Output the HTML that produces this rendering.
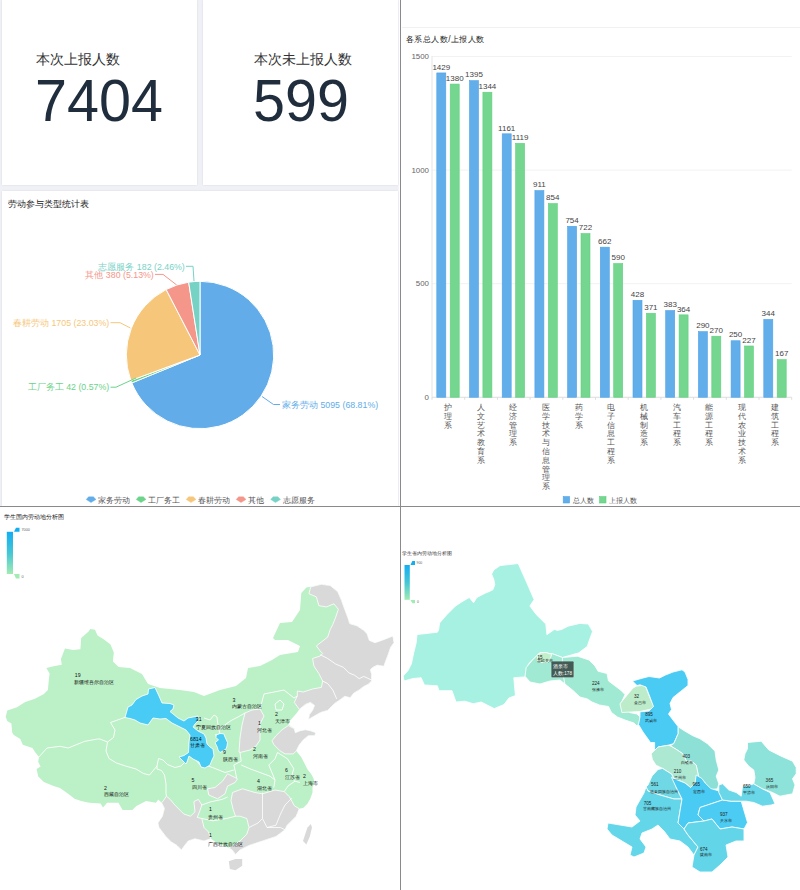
<!DOCTYPE html><html><head><meta charset="utf-8"><style>
html,body{margin:0;padding:0;width:800px;height:890px;overflow:hidden;background:#fff;font-family:"Liberation Sans", sans-serif;}
.abs{position:absolute;}
.card{position:absolute;background:#fff;box-shadow:0 0 2px rgba(0,0,40,0.10);}
svg{position:absolute;left:0;top:0;}
</style></head><body>
<div class="abs" style="left:0;top:0;width:399px;height:506px;background:#f0f1f6"></div>
<div class="abs" style="left:398px;top:0;width:1px;height:506px;background:#f4f4fa"></div>
<div class="card" style="left:2px;top:0;width:195px;height:185px"></div>
<div class="card" style="left:203px;top:0;width:195px;height:185px"></div>
<div class="card" style="left:2px;top:191px;width:396px;height:315px"></div>
<div class="abs" style="left:35.5px;top:50.5px;font-size:13.5px;color:#333;white-space:nowrap">本次上报人数</div>
<div class="abs" style="left:34.5px;top:67px;font-size:59px;color:#1f2d3d;white-space:nowrap;transform:scaleX(0.975);transform-origin:0 0">7404</div>
<div class="abs" style="left:253.5px;top:50.5px;font-size:13.5px;color:#333;white-space:nowrap">本次未上报人数</div>
<div class="abs" style="left:252.5px;top:67px;font-size:59px;color:#1f2d3d;white-space:nowrap;transform:scaleX(0.975);transform-origin:0 0">599</div>

<svg width="800" height="890" viewBox="0 0 800 890" style="font-family:'Liberation Sans',sans-serif"><path d="M200,355 L200.00,281.30 A73.7,73.7 0 1 1 131.80,382.93 Z" fill="#62ADE9" stroke="#fff" stroke-width="1" stroke-linejoin="round"/><path d="M200,355 L131.80,382.93 A73.7,73.7 0 0 1 130.85,380.48 Z" fill="#6CD38A" stroke="#fff" stroke-width="1" stroke-linejoin="round"/><path d="M200,355 L130.85,380.48 A73.7,73.7 0 0 1 166.17,289.52 Z" fill="#F6C77B" stroke="#fff" stroke-width="1" stroke-linejoin="round"/><path d="M200,355 L166.17,289.52 A73.7,73.7 0 0 1 188.66,282.18 Z" fill="#F5968A" stroke="#fff" stroke-width="1" stroke-linejoin="round"/><path d="M200,355 L188.66,282.18 A73.7,73.7 0 0 1 200.00,281.30 Z" fill="#77D2C6" stroke="#fff" stroke-width="1" stroke-linejoin="round"/><path d="M262,396.5 L273.5,404.5 L280,404.5" fill="none" stroke="#62ADE9" stroke-width="1"/><text x="282" y="408.3" text-anchor="start" font-size="8.8" fill="#62ADE9">家务劳动 5095 (68.81%)</text><path d="M136,378 L116,387.2 L110.5,387.2" fill="none" stroke="#6CD38A" stroke-width="1"/><text x="109.2" y="390.4" text-anchor="end" font-size="8.8" fill="#6CD38A">工厂务工 42 (0.57%)</text><path d="M130.4,328 L120,322.7 L110.5,322.7" fill="none" stroke="#F6C77B" stroke-width="1"/><text x="109.2" y="325.6" text-anchor="end" font-size="8.8" fill="#F6C77B">春耕劳动 1705 (23.03%)</text><path d="M176.7,285 L163,274.4 L155,274.4" fill="none" stroke="#F5968A" stroke-width="1"/><text x="153.8" y="278.0" text-anchor="end" font-size="8.8" fill="#F5968A">其他 380 (5.13%)</text><path d="M194,281 L193,266.3 L186,266.3" fill="none" stroke="#77D2C6" stroke-width="1"/><text x="184.8" y="270.1" text-anchor="end" font-size="8.8" fill="#77D2C6">志愿服务 182 (2.46%)</text><text x="8" y="207.4" font-size="9" fill="#222">劳动参与类型统计表</text><path d="M86.2,499.4 L88.6,496.8 L93.4,496.8 L96,499.4 L91,502.6 Z" fill="#62ADE9" stroke="#62ADE9" stroke-width="0.4" stroke-linejoin="round"/><text x="98.1" y="503.3" font-size="8.1" fill="#555">家务劳动</text><path d="M136.2,499.4 L138.6,496.8 L143.4,496.8 L146,499.4 L141,502.6 Z" fill="#6CD38A" stroke="#6CD38A" stroke-width="0.4" stroke-linejoin="round"/><text x="148.1" y="503.3" font-size="8.1" fill="#555">工厂务工</text><path d="M186.2,499.4 L188.6,496.8 L193.4,496.8 L196,499.4 L191,502.6 Z" fill="#F6C77B" stroke="#F6C77B" stroke-width="0.4" stroke-linejoin="round"/><text x="198.1" y="503.3" font-size="8.1" fill="#555">春耕劳动</text><path d="M236.2,499.4 L238.6,496.8 L243.4,496.8 L246,499.4 L241,502.6 Z" fill="#F5968A" stroke="#F5968A" stroke-width="0.4" stroke-linejoin="round"/><text x="248.1" y="503.3" font-size="8.1" fill="#555">其他</text><path d="M270.7,499.4 L273.1,496.8 L277.9,496.8 L280.5,499.4 L275.5,502.6 Z" fill="#77D2C6" stroke="#77D2C6" stroke-width="0.4" stroke-linejoin="round"/><text x="282.6" y="503.3" font-size="8.1" fill="#555">志愿服务</text><rect x="400" y="0" width="1" height="890" fill="#8a8a8a"/><rect x="0" y="506" width="800" height="1" fill="#8a8a8a"/><rect x="402" y="27" width="398" height="1" fill="#f1f1f1"/><text x="406" y="42.2" font-size="8.2" letter-spacing="0.45" fill="#222">各系总人数/上报人数</text><text x="429" y="399.85" text-anchor="end" font-size="7.9" fill="#666">0</text><rect x="432.0" y="283.17" width="359.70" height="1" fill="#f2f2f2"/><text x="429" y="286.27" text-anchor="end" font-size="7.9" fill="#666">500</text><rect x="432.0" y="169.58" width="359.70" height="1" fill="#f2f2f2"/><text x="429" y="172.68" text-anchor="end" font-size="7.9" fill="#666">1000</text><rect x="432.0" y="56.00" width="359.70" height="1" fill="#f2f2f2"/><text x="429" y="59.10" text-anchor="end" font-size="7.9" fill="#666">1500</text><rect x="431.5" y="56" width="1" height="341.25" fill="#e6e6e6"/><rect x="432.0" y="396.75" width="359.70" height="1" fill="#dddddd"/><rect x="431.50" y="397.25" width="1" height="2.5" fill="#dddddd"/><rect x="464.20" y="397.25" width="1" height="2.5" fill="#dddddd"/><rect x="496.90" y="397.25" width="1" height="2.5" fill="#dddddd"/><rect x="529.60" y="397.25" width="1" height="2.5" fill="#dddddd"/><rect x="562.30" y="397.25" width="1" height="2.5" fill="#dddddd"/><rect x="595.00" y="397.25" width="1" height="2.5" fill="#dddddd"/><rect x="627.70" y="397.25" width="1" height="2.5" fill="#dddddd"/><rect x="660.40" y="397.25" width="1" height="2.5" fill="#dddddd"/><rect x="693.10" y="397.25" width="1" height="2.5" fill="#dddddd"/><rect x="725.80" y="397.25" width="1" height="2.5" fill="#dddddd"/><rect x="758.50" y="397.25" width="1" height="2.5" fill="#dddddd"/><rect x="791.20" y="397.25" width="1" height="2.5" fill="#dddddd"/><rect x="436.80" y="72.93" width="9.00" height="324.32" fill="#62AEEA" stroke="#4ea2e8" stroke-width="0.6"/><text x="441.30" y="69.63" text-anchor="middle" font-size="8" fill="#444">1429</text><rect x="450.20" y="84.06" width="9.00" height="313.19" fill="#74D68F" stroke="#5fd07f" stroke-width="0.6"/><text x="454.70" y="80.76" text-anchor="middle" font-size="8" fill="#444">1380</text><text x="447.85" y="410.00" text-anchor="middle" font-size="7.6" fill="#555">护</text><text x="447.85" y="418.80" text-anchor="middle" font-size="7.6" fill="#555">理</text><text x="447.85" y="427.60" text-anchor="middle" font-size="7.6" fill="#555">系</text><rect x="469.50" y="80.65" width="9.00" height="316.60" fill="#62AEEA" stroke="#4ea2e8" stroke-width="0.6"/><text x="474.00" y="77.35" text-anchor="middle" font-size="8" fill="#444">1395</text><rect x="482.90" y="92.24" width="9.00" height="305.01" fill="#74D68F" stroke="#5fd07f" stroke-width="0.6"/><text x="487.40" y="88.94" text-anchor="middle" font-size="8" fill="#444">1344</text><text x="480.55" y="410.00" text-anchor="middle" font-size="7.6" fill="#555">人</text><text x="480.55" y="418.80" text-anchor="middle" font-size="7.6" fill="#555">文</text><text x="480.55" y="427.60" text-anchor="middle" font-size="7.6" fill="#555">艺</text><text x="480.55" y="436.40" text-anchor="middle" font-size="7.6" fill="#555">术</text><text x="480.55" y="445.20" text-anchor="middle" font-size="7.6" fill="#555">教</text><text x="480.55" y="454.00" text-anchor="middle" font-size="7.6" fill="#555">育</text><text x="480.55" y="462.80" text-anchor="middle" font-size="7.6" fill="#555">系</text><rect x="502.20" y="133.81" width="9.00" height="263.44" fill="#62AEEA" stroke="#4ea2e8" stroke-width="0.6"/><text x="506.70" y="130.51" text-anchor="middle" font-size="8" fill="#444">1161</text><rect x="515.60" y="143.35" width="9.00" height="253.90" fill="#74D68F" stroke="#5fd07f" stroke-width="0.6"/><text x="520.10" y="140.05" text-anchor="middle" font-size="8" fill="#444">1119</text><text x="513.25" y="410.00" text-anchor="middle" font-size="7.6" fill="#555">经</text><text x="513.25" y="418.80" text-anchor="middle" font-size="7.6" fill="#555">济</text><text x="513.25" y="427.60" text-anchor="middle" font-size="7.6" fill="#555">管</text><text x="513.25" y="436.40" text-anchor="middle" font-size="7.6" fill="#555">理</text><text x="513.25" y="445.20" text-anchor="middle" font-size="7.6" fill="#555">系</text><rect x="534.90" y="190.60" width="9.00" height="206.65" fill="#62AEEA" stroke="#4ea2e8" stroke-width="0.6"/><text x="539.40" y="187.30" text-anchor="middle" font-size="8" fill="#444">911</text><rect x="548.30" y="203.55" width="9.00" height="193.70" fill="#74D68F" stroke="#5fd07f" stroke-width="0.6"/><text x="552.80" y="200.25" text-anchor="middle" font-size="8" fill="#444">854</text><text x="545.95" y="410.00" text-anchor="middle" font-size="7.6" fill="#555">医</text><text x="545.95" y="418.80" text-anchor="middle" font-size="7.6" fill="#555">学</text><text x="545.95" y="427.60" text-anchor="middle" font-size="7.6" fill="#555">技</text><text x="545.95" y="436.40" text-anchor="middle" font-size="7.6" fill="#555">术</text><text x="545.95" y="445.20" text-anchor="middle" font-size="7.6" fill="#555">与</text><text x="545.95" y="454.00" text-anchor="middle" font-size="7.6" fill="#555">信</text><text x="545.95" y="462.80" text-anchor="middle" font-size="7.6" fill="#555">息</text><text x="545.95" y="471.60" text-anchor="middle" font-size="7.6" fill="#555">管</text><text x="545.95" y="480.40" text-anchor="middle" font-size="7.6" fill="#555">理</text><text x="545.95" y="489.20" text-anchor="middle" font-size="7.6" fill="#555">系</text><rect x="567.60" y="226.27" width="9.00" height="170.98" fill="#62AEEA" stroke="#4ea2e8" stroke-width="0.6"/><text x="572.10" y="222.97" text-anchor="middle" font-size="8" fill="#444">754</text><rect x="581.00" y="233.54" width="9.00" height="163.71" fill="#74D68F" stroke="#5fd07f" stroke-width="0.6"/><text x="585.50" y="230.24" text-anchor="middle" font-size="8" fill="#444">722</text><text x="578.65" y="410.00" text-anchor="middle" font-size="7.6" fill="#555">药</text><text x="578.65" y="418.80" text-anchor="middle" font-size="7.6" fill="#555">学</text><text x="578.65" y="427.60" text-anchor="middle" font-size="7.6" fill="#555">系</text><rect x="600.30" y="247.17" width="9.00" height="150.08" fill="#62AEEA" stroke="#4ea2e8" stroke-width="0.6"/><text x="604.80" y="243.87" text-anchor="middle" font-size="8" fill="#444">662</text><rect x="613.70" y="263.52" width="9.00" height="133.73" fill="#74D68F" stroke="#5fd07f" stroke-width="0.6"/><text x="618.20" y="260.22" text-anchor="middle" font-size="8" fill="#444">590</text><text x="611.35" y="410.00" text-anchor="middle" font-size="7.6" fill="#555">电</text><text x="611.35" y="418.80" text-anchor="middle" font-size="7.6" fill="#555">子</text><text x="611.35" y="427.60" text-anchor="middle" font-size="7.6" fill="#555">信</text><text x="611.35" y="436.40" text-anchor="middle" font-size="7.6" fill="#555">息</text><text x="611.35" y="445.20" text-anchor="middle" font-size="7.6" fill="#555">工</text><text x="611.35" y="454.00" text-anchor="middle" font-size="7.6" fill="#555">程</text><text x="611.35" y="462.80" text-anchor="middle" font-size="7.6" fill="#555">系</text><rect x="633.00" y="300.32" width="9.00" height="96.93" fill="#62AEEA" stroke="#4ea2e8" stroke-width="0.6"/><text x="637.50" y="297.02" text-anchor="middle" font-size="8" fill="#444">428</text><rect x="646.40" y="313.27" width="9.00" height="83.98" fill="#74D68F" stroke="#5fd07f" stroke-width="0.6"/><text x="650.90" y="309.97" text-anchor="middle" font-size="8" fill="#444">371</text><text x="644.05" y="410.00" text-anchor="middle" font-size="7.6" fill="#555">机</text><text x="644.05" y="418.80" text-anchor="middle" font-size="7.6" fill="#555">械</text><text x="644.05" y="427.60" text-anchor="middle" font-size="7.6" fill="#555">制</text><text x="644.05" y="436.40" text-anchor="middle" font-size="7.6" fill="#555">造</text><text x="644.05" y="445.20" text-anchor="middle" font-size="7.6" fill="#555">系</text><rect x="665.70" y="310.55" width="9.00" height="86.70" fill="#62AEEA" stroke="#4ea2e8" stroke-width="0.6"/><text x="670.20" y="307.25" text-anchor="middle" font-size="8" fill="#444">383</text><rect x="679.10" y="314.86" width="9.00" height="82.39" fill="#74D68F" stroke="#5fd07f" stroke-width="0.6"/><text x="683.60" y="311.56" text-anchor="middle" font-size="8" fill="#444">364</text><text x="676.75" y="410.00" text-anchor="middle" font-size="7.6" fill="#555">汽</text><text x="676.75" y="418.80" text-anchor="middle" font-size="7.6" fill="#555">车</text><text x="676.75" y="427.60" text-anchor="middle" font-size="7.6" fill="#555">工</text><text x="676.75" y="436.40" text-anchor="middle" font-size="7.6" fill="#555">程</text><text x="676.75" y="445.20" text-anchor="middle" font-size="7.6" fill="#555">系</text><rect x="698.40" y="331.67" width="9.00" height="65.58" fill="#62AEEA" stroke="#4ea2e8" stroke-width="0.6"/><text x="702.90" y="328.37" text-anchor="middle" font-size="8" fill="#444">290</text><rect x="711.80" y="336.22" width="9.00" height="61.03" fill="#74D68F" stroke="#5fd07f" stroke-width="0.6"/><text x="716.30" y="332.92" text-anchor="middle" font-size="8" fill="#444">270</text><text x="709.45" y="410.00" text-anchor="middle" font-size="7.6" fill="#555">能</text><text x="709.45" y="418.80" text-anchor="middle" font-size="7.6" fill="#555">源</text><text x="709.45" y="427.60" text-anchor="middle" font-size="7.6" fill="#555">工</text><text x="709.45" y="436.40" text-anchor="middle" font-size="7.6" fill="#555">程</text><text x="709.45" y="445.20" text-anchor="middle" font-size="7.6" fill="#555">系</text><rect x="731.10" y="340.76" width="9.00" height="56.49" fill="#62AEEA" stroke="#4ea2e8" stroke-width="0.6"/><text x="735.60" y="337.46" text-anchor="middle" font-size="8" fill="#444">250</text><rect x="744.50" y="345.98" width="9.00" height="51.27" fill="#74D68F" stroke="#5fd07f" stroke-width="0.6"/><text x="749.00" y="342.68" text-anchor="middle" font-size="8" fill="#444">227</text><text x="742.15" y="410.00" text-anchor="middle" font-size="7.6" fill="#555">现</text><text x="742.15" y="418.80" text-anchor="middle" font-size="7.6" fill="#555">代</text><text x="742.15" y="427.60" text-anchor="middle" font-size="7.6" fill="#555">农</text><text x="742.15" y="436.40" text-anchor="middle" font-size="7.6" fill="#555">业</text><text x="742.15" y="445.20" text-anchor="middle" font-size="7.6" fill="#555">技</text><text x="742.15" y="454.00" text-anchor="middle" font-size="7.6" fill="#555">术</text><text x="742.15" y="462.80" text-anchor="middle" font-size="7.6" fill="#555">系</text><rect x="763.80" y="319.40" width="9.00" height="77.85" fill="#62AEEA" stroke="#4ea2e8" stroke-width="0.6"/><text x="768.30" y="316.10" text-anchor="middle" font-size="8" fill="#444">344</text><rect x="777.20" y="359.61" width="9.00" height="37.64" fill="#74D68F" stroke="#5fd07f" stroke-width="0.6"/><text x="781.70" y="356.31" text-anchor="middle" font-size="8" fill="#444">167</text><text x="774.85" y="410.00" text-anchor="middle" font-size="7.6" fill="#555">建</text><text x="774.85" y="418.80" text-anchor="middle" font-size="7.6" fill="#555">筑</text><text x="774.85" y="427.60" text-anchor="middle" font-size="7.6" fill="#555">工</text><text x="774.85" y="436.40" text-anchor="middle" font-size="7.6" fill="#555">程</text><text x="774.85" y="445.20" text-anchor="middle" font-size="7.6" fill="#555">系</text><rect x="563.2" y="496.6" width="6.4" height="6.4" fill="#62AEEA" stroke="#4da3e8" stroke-width="0.6"/><text x="572.5" y="503" font-size="7" fill="#555">总人数</text><rect x="599.6" y="496.6" width="6.4" height="6.4" fill="#74D68F" stroke="#5ccf7c" stroke-width="0.6"/><text x="609" y="503" font-size="7" fill="#555">上报人数</text><polygon points="5.7,717.0 7.3,710.6 17.0,707.3 25.2,702.0 35.0,698.8 43.9,694.0 47.9,689.9 48.8,680.0 49.6,673.6 46.3,668.0 53.6,666.3 61.8,664.7 60.9,659.0 65.0,648.4 73.1,650.0 80.4,649.2 81.2,637.9 88.6,631.4 90.2,629.0 95.0,629.8 97.5,635.4 104.0,639.5 110.5,644.4 113.8,652.5 112.9,661.4 118.6,667.1 130.0,668.0 142.0,674.0 148.0,684.0 160.0,688.0 180.0,690.0 194.0,692.0 204.0,696.0 220.0,690.0 236.0,686.0 246.0,678.0 248.0,668.0 260.0,666.0 272.0,660.0 280.0,655.0 298.0,652.0 300.0,646.0 288.0,640.0 275.0,640.0 273.0,638.0 280.0,623.0 292.0,622.0 300.0,610.0 301.3,593.1 306.4,587.4 310.8,586.8 321.4,584.3 330.2,585.5 337.8,591.8 341.6,600.6 344.6,609.0 348.0,618.0 349.7,623.6 357.0,625.8 363.7,630.3 367.1,633.7 369.3,640.4 375.0,642.7 381.7,640.4 392.9,636.0 394.0,642.7 390.7,647.2 388.4,653.9 385.0,662.9 383.9,666.3 377.2,665.2 372.7,667.4 370.4,669.7 371.6,674.2 371.6,680.9 368.2,684.3 363.7,686.5 359.2,689.9 353.6,693.3 350.2,697.8 344.8,696.3 340.8,699.3 334.7,703.4 327.6,710.4 320.6,712.5 313.5,716.5 308.4,719.5 309.4,714.5 312.5,710.4 314.5,705.4 310.4,702.4 305.4,704.4 299.3,709.4 296.3,713.5 290.2,720.6 288.2,724.6 294.3,728.6 295.3,732.7 300.3,730.7 305.4,729.7 310.4,730.7 316.0,732.7 314.5,735.7 308.4,735.7 303.4,739.8 299.3,744.8 296.3,750.9 301.3,757.2 304.4,763.3 307.4,769.3 311.5,774.4 313.5,778.4 314.5,782.5 312.5,787.5 312.5,792.6 310.4,798.6 307.4,803.7 303.4,807.7 299.3,808.8 296.2,816.2 287.2,825.2 285.0,829.8 276.0,836.5 262.5,841.0 249.0,845.5 240.0,850.0 235.5,854.5 232.2,850.0 228.8,847.8 217.5,843.2 210.8,838.8 204.0,841.0 195.0,838.8 188.2,841.0 183.8,846.6 181.5,850.0 177.0,845.5 171.4,842.0 165.8,836.5 159.0,827.5 157.9,823.0 162.4,816.2 164.4,808.4 161.6,802.8 158.3,799.5 155.9,802.8 146.1,801.1 136.4,806.0 132.3,810.0 122.6,810.0 118.5,802.8 107.1,802.8 103.0,807.6 100.6,803.6 89.2,802.8 81.1,801.1 74.6,798.7 68.1,793.8 60.0,788.1 53.6,786.0 43.9,782.0 38.2,776.4 36.6,769.0 40.6,766.6 38.2,761.8 39.0,756.9 35.0,752.0 32.5,748.0 22.8,744.7 20.3,739.0 13.8,735.0 12.2,732.5 11.4,723.6 7.3,721.0" fill="#bcf0c7" stroke="none" stroke-width="0.85" stroke-linejoin="round"/>
<polygon points="310.8,586.8 321.4,584.3 330.2,585.5 337.8,591.8 341.6,600.6 344.6,609.0 348.0,618.0 349.7,623.6 357.0,625.8 363.7,630.3 367.1,633.7 369.3,640.4 375.0,642.7 381.7,640.4 392.9,636.0 394.0,642.7 390.7,647.2 388.4,653.9 385.0,662.9 383.9,666.3 377.2,665.2 372.7,667.4 370.4,669.7 371.6,674.2 371.6,680.9 368.2,684.3 363.7,686.5 359.2,689.9 353.6,693.3 350.2,697.8 344.8,696.3 340.8,699.3 334.7,703.4 327.6,710.4 320.6,712.5 313.5,716.5 308.4,719.5 309.4,714.5 312.5,710.4 314.5,705.4 310.4,702.4 305.4,704.4 299.3,709.4 294.3,702.4 297.3,696.0 297.3,691.0 303.4,692.0 312.5,689.0 321.4,687.4 322.7,681.1 318.9,673.6 313.9,666.0 312.6,658.5 320.2,656.0 322.7,653.5 320.2,651.0 316.4,645.9 327.7,637.1 330.2,629.6 332.8,624.5 335.3,618.3 338.4,609.4 334.0,603.8 326.5,606.9 318.9,605.7 316.4,596.9 308.9,593.7" fill="#d9d9d9" stroke="#fff" stroke-width="0.8" stroke-linejoin="round"/>
<polyline points="320.2,654.7 327.7,658.5 335.6,664.0 343.5,667.4 349.1,673.0 354.7,675.3 359.2,678.7 363.7,676.4 371.6,680.0" fill="none" stroke="#fff" stroke-width="0.85" stroke-linejoin="round"/>
<polyline points="322.7,681.1 327.7,683.6 332.8,690.0 336.7,698.9" fill="none" stroke="#fff" stroke-width="0.85" stroke-linejoin="round"/>
<polygon points="288.2,725.6 294.3,728.6 295.3,732.7 300.3,730.7 305.4,729.7 310.4,730.7 316.0,732.7 314.5,735.7 308.4,735.7 303.4,739.8 299.3,744.8 296.3,750.9 293.3,753.9 285.2,753.9 280.1,750.9 274.0,744.8 272.0,740.8 276.0,735.7 282.1,729.7" fill="#d9d9d9" stroke="#fff" stroke-width="0.8" stroke-linejoin="round"/>
<polygon points="245.0,713.0 252.0,710.0 260.0,709.0 264.0,716.0 260.0,724.0 260.0,740.0 256.0,746.0 250.0,750.0 240.0,752.5 239.0,752.0 240.0,738.0 242.0,725.0" fill="#d9d9d9" stroke="#fff" stroke-width="0.8" stroke-linejoin="round"/>
<polygon points="207.5,788.8 215.0,787.5 222.5,781.2 227.5,773.8 237.5,778.8 235.0,782.5 227.5,786.2 225.0,793.8 217.5,798.8 208.8,795.0" fill="#d9d9d9" stroke="#fff" stroke-width="0.8" stroke-linejoin="round"/>
<polygon points="232.5,792.5 242.5,788.8 255.0,792.5 262.5,793.8 275.0,790.0 284.2,791.6 289.2,796.6 292.2,801.7 294.3,805.7 299.3,808.8 296.2,816.2 287.2,825.2 285.0,829.8 276.0,836.5 262.5,841.0 249.0,845.5 240.0,850.0 235.5,854.5 232.2,850.0 228.8,847.8 233.2,845.5 240.0,841.0 246.8,834.2 249.0,827.5 246.8,818.5 240.0,816.2 235.5,816.2 233.2,809.5 231.0,800.5" fill="#d9d9d9" stroke="#fff" stroke-width="0.8" stroke-linejoin="round"/>
<polyline points="262.5,792.6 262.5,818.5 258.0,823.0 249.0,827.5" fill="none" stroke="#fff" stroke-width="0.8" stroke-linejoin="round"/>
<polyline points="262.5,818.5 267.0,827.5 280.5,827.5 285.0,829.8" fill="none" stroke="#fff" stroke-width="0.8" stroke-linejoin="round"/>
<polyline points="291.8,798.2 285.0,805.0 280.5,814.0 276.0,825.2 267.0,827.5" fill="none" stroke="#fff" stroke-width="0.8" stroke-linejoin="round"/>
<polygon points="161.6,802.8 163.5,800.5 166.4,796.2 170.2,799.4 174.8,805.0 183.8,814.0 190.5,816.2 195.0,811.8 193.9,801.6 198.4,799.4 201.8,805.0 199.5,811.8 197.2,817.4 201.8,818.5 204.0,827.5 208.5,832.0 210.8,838.8 204.0,841.0 195.0,838.8 188.2,841.0 183.8,846.6 181.5,850.0 177.0,845.5 171.4,842.0 165.8,836.5 159.0,827.5 157.9,823.0 162.4,816.2 164.4,808.4" fill="#d9d9d9" stroke="#fff" stroke-width="0.8" stroke-linejoin="round"/>
<polygon points="228.8,861.2 235.5,859.0 242.2,859.0 242.2,865.8 235.5,870.2 229.9,869.0" fill="#d9d9d9" stroke="none" stroke-width="0.85" stroke-linejoin="round"/>
<polygon points="305.2,834.2 307.5,827.5 310.8,824.0 312.0,827.5 309.8,836.5 306.4,844.4 303.0,841.0" fill="#d9d9d9" stroke="none" stroke-width="0.85" stroke-linejoin="round"/>
<polyline points="39.0,756.9 47.0,748.0 60.0,746.3 68.2,748.0 84.5,741.4 97.5,739.0 100.0,739.0 107.5,742.0" fill="none" stroke="#fff" stroke-width="0.9" stroke-linejoin="round"/>
<polyline points="107.5,742.0 113.5,737.5 115.0,730.0 110.5,722.5 125.5,717.2" fill="none" stroke="#fff" stroke-width="0.9" stroke-linejoin="round"/>
<polyline points="107.5,742.0 106.0,751.0 109.0,758.5 116.5,763.0 125.5,766.0 136.0,769.0 143.5,773.5 149.5,775.0 157.0,766.0 158.5,758.5 163.0,760.0 167.5,764.5 175.0,767.5 181.0,766.0 185.5,761.5 188.5,755.5 196.0,760.0 202.0,767.5 208.0,766.0 212.5,767.5" fill="none" stroke="#fff" stroke-width="0.9" stroke-linejoin="round"/>
<polyline points="157.0,766.0 157.0,769.0 161.5,770.5 164.5,775.0 166.0,784.0 166.0,793.0 166.4,796.2" fill="none" stroke="#fff" stroke-width="0.9" stroke-linejoin="round"/>
<polyline points="204.0,718.0 210.0,720.0 214.0,715.0 217.0,717.0 217.5,722.0 219.0,730.0 220.0,734.0 215.0,735.0" fill="none" stroke="#fff" stroke-width="0.9" stroke-linejoin="round"/>
<polyline points="219.0,730.0 226.0,724.0 232.0,720.0 238.0,717.0 245.0,713.0" fill="none" stroke="#fff" stroke-width="0.9" stroke-linejoin="round"/>
<polyline points="260.0,709.0 264.0,694.0 284.0,690.0 294.0,698.0 297.3,696.0" fill="none" stroke="#fff" stroke-width="0.9" stroke-linejoin="round"/>
<polyline points="275.0,704.0 280.0,700.0 284.0,704.0 282.0,710.0 276.0,710.0 275.0,704.0" fill="none" stroke="#fff" stroke-width="0.9" stroke-linejoin="round"/>
<polyline points="240.0,752.5 241.2,761.2 233.8,765.0 235.0,770.0 236.6,778.0" fill="none" stroke="#fff" stroke-width="0.9" stroke-linejoin="round"/>
<polyline points="212.5,767.5 225.0,772.5 233.8,770.0" fill="none" stroke="#fff" stroke-width="0.9" stroke-linejoin="round"/>
<polyline points="241.2,765.0 250.0,768.8 260.0,772.5 270.0,776.2 275.0,780.0 273.8,787.5" fill="none" stroke="#fff" stroke-width="0.9" stroke-linejoin="round"/>
<polyline points="268.8,765.0 275.0,758.8 277.5,752.5" fill="none" stroke="#fff" stroke-width="0.9" stroke-linejoin="round"/>
<polyline points="277.5,752.5 287.5,758.8 293.8,768.8 291.2,777.5 295.0,781.2 300.0,782.5" fill="none" stroke="#fff" stroke-width="0.9" stroke-linejoin="round"/>
<polyline points="268.8,765.0 275.0,780.0" fill="none" stroke="#fff" stroke-width="0.9" stroke-linejoin="round"/>
<polyline points="284.2,791.6 288.0,786.0 295.0,781.2" fill="none" stroke="#fff" stroke-width="0.9" stroke-linejoin="round"/>
<polyline points="201.8,805.0 210.0,802.0 222.0,799.4 227.6,797.0" fill="none" stroke="#fff" stroke-width="0.9" stroke-linejoin="round"/>
<polyline points="201.8,818.5 213.0,820.8 226.5,818.5 235.5,816.2" fill="none" stroke="#fff" stroke-width="0.9" stroke-linejoin="round"/>
<polygon points="125.0,717.5 128.0,707.0 132.0,705.0 136.0,699.5 142.0,696.0 148.0,694.0 148.5,689.0 155.0,687.5 159.0,696.0 162.0,703.0 170.0,703.5 174.0,705.0 173.0,709.0 170.0,711.5 178.0,718.0 184.0,721.0 188.0,718.0 193.0,717.0 198.0,716.0 199.0,720.0 195.0,724.0 193.0,727.0 198.0,731.0 204.0,734.0 206.0,738.0 207.0,744.0 210.0,747.0 213.0,749.0 214.0,756.0 212.0,760.0 210.0,765.0 205.0,768.0 201.0,767.0 199.0,762.0 193.0,759.0 189.0,756.0 187.0,762.0 186.0,764.0 183.0,761.0 179.0,757.0 184.0,755.5 188.5,752.5 189.0,742.0 190.0,735.0 186.0,730.0 180.0,727.0 172.0,723.0 166.0,718.5 160.0,719.0 153.0,718.0 148.0,725.0 140.0,723.0 135.0,720.0 130.0,718.5" fill="#48ccf5" stroke="#fff" stroke-width="0.85" stroke-linejoin="round"/>
<polygon points="216.2,735.0 220.0,733.5 223.8,733.8 225.0,737.0 227.5,742.5 227.0,746.0 226.2,748.8 223.0,751.0 220.0,752.5 218.0,750.0 217.5,747.5 215.0,742.5 218.5,740.0 216.0,737.5" fill="#48ccf5" stroke="#fff" stroke-width="0.85" stroke-linejoin="round"/>
<text x="74.75" y="676.5" font-size="5.2" fill="#111" text-anchor="start" >19</text>
<text x="74" y="684.0" font-size="5.0" fill="#111" text-anchor="start" >新疆维吾尔自治区</text>
<text x="104" y="789.6" font-size="5.2" fill="#111" text-anchor="start" >2</text>
<text x="104" y="796.0" font-size="5.0" fill="#111" text-anchor="start" >西藏自治区</text>
<text x="232.4" y="701.6" font-size="5.2" fill="#111" text-anchor="start" >3</text>
<text x="232.4" y="708.3" font-size="5.0" fill="#111" text-anchor="start" >内蒙古自治区</text>
<text x="195.8" y="721.1" font-size="5.2" fill="#111" text-anchor="start" >31</text>
<text x="195.8" y="728.6" font-size="5.0" fill="#111" text-anchor="start" >宁夏回族自治区</text>
<text x="190" y="740.6" font-size="5.2" fill="#111" text-anchor="start" >6814</text>
<text x="190" y="746.5" font-size="5.0" fill="#111" text-anchor="start" >甘肃省</text>
<text x="223" y="754.1" font-size="5.2" fill="#111" text-anchor="start" >9</text>
<text x="222.5" y="760.5" font-size="5.0" fill="#111" text-anchor="start" >陕西省</text>
<text x="275" y="715.6" font-size="5.2" fill="#111" text-anchor="start" >2</text>
<text x="275" y="723.0" font-size="5.0" fill="#111" text-anchor="start" >天津市</text>
<text x="258" y="724.6" font-size="5.2" fill="#111" text-anchor="start" >1</text>
<text x="257" y="732.0" font-size="5.0" fill="#111" text-anchor="start" >河北省</text>
<text x="253" y="750.6" font-size="5.2" fill="#111" text-anchor="start" >2</text>
<text x="253" y="758.0" font-size="5.0" fill="#111" text-anchor="start" >河南省</text>
<text x="285" y="771.6" font-size="5.2" fill="#111" text-anchor="start" >6</text>
<text x="285" y="779.0" font-size="5.0" fill="#111" text-anchor="start" >江苏省</text>
<text x="303" y="777.6" font-size="5.2" fill="#111" text-anchor="start" >2</text>
<text x="303" y="785.0" font-size="5.0" fill="#111" text-anchor="start" >上海市</text>
<text x="257" y="782.6" font-size="5.2" fill="#111" text-anchor="start" >4</text>
<text x="257" y="790.0" font-size="5.0" fill="#111" text-anchor="start" >湖北省</text>
<text x="191.6" y="782.1" font-size="5.2" fill="#111" text-anchor="start" >5</text>
<text x="191.6" y="789.4" font-size="5.0" fill="#111" text-anchor="start" >四川省</text>
<text x="209" y="811.35" font-size="5.2" fill="#111" text-anchor="start" >1</text>
<text x="208" y="818.6" font-size="5.0" fill="#111" text-anchor="start" >贵州省</text>
<text x="209" y="837.2" font-size="5.2" fill="#111" text-anchor="start" >1</text>
<text x="208" y="845.6" font-size="5.0" fill="#111" text-anchor="start" >广西壮族自治区</text>
<defs><linearGradient id="vg" x1="0" y1="0" x2="0" y2="1"><stop offset="0" stop-color="#12aef2"/><stop offset="0.5" stop-color="#45c6d6"/><stop offset="1" stop-color="#a2ebb2"/></linearGradient></defs>
<text x="3.8" y="518.9" font-size="5.9" fill="#222">学生国内劳动地分析图</text>
<rect x="6.8" y="531.8" width="6.2" height="42.2" fill="url(#vg)"/>
<path d="M14,531.8 L16,527.8 L19.5,527.8 L19.5,531.8 Z" fill="#12aef2"/>
<path d="M14,574 L19.5,574 L19.5,578.5 L16,578.5 Z" fill="#a2ebb2"/>
<text x="21.5" y="530.9" font-size="3.8" fill="#666">7000</text>
<text x="21.5" y="578" font-size="3.8" fill="#666">0</text>
<text x="402.2" y="554.6" font-size="4.8" fill="#333">学生省内劳动地分析图</text>
<rect x="404.5" y="565" width="5.3" height="34.8" fill="url(#vg)"/>
<path d="M410.5,565 L412.3,561 L415,561 L415,565 Z" fill="#12aef2"/>
<path d="M410.5,600 L415,600 L415,603.2 L412.3,603.2 Z" fill="#a2ebb2"/>
<text x="416.5" y="564.2" font-size="3.4" fill="#666">900</text>
<text x="417" y="603" font-size="3.4" fill="#666">0</text>
<polygon points="403.2,676.0 408.1,670.4 411.4,663.9 413.8,652.5 416.2,642.8 417.0,634.6 437.4,632.2 438.5,630.4 439.6,623.0 447.0,614.5 455.5,606.0 461.9,601.8 469.3,597.5 473.6,602.8 476.8,597.5 485.2,593.2 492.7,590.0 494.8,584.8 493.8,579.4 491.6,574.1 493.8,569.9 500.1,565.6 518.2,563.5 526.7,582.6 534.1,599.6 529.9,606.0 536.2,614.5 545.8,624.0 546.9,634.7 554.3,629.4 557.5,630.4 561.8,629.4 568.1,626.2 579.8,623.4 588.3,624.0 592.6,631.5 589.4,640.0 587.2,646.4 578.8,652.8 562.5,657.5 552.5,653.8 540.0,652.5 532.5,660.0 528.4,663.9 525.1,676.9 513.8,677.7 515.4,695.6 508.9,698.0 504.0,704.5 494.2,708.6 481.2,702.0 473.1,703.7 465.0,701.2 456.0,702.0 452.0,690.7 439.0,690.7 437.4,685.8 424.4,685.0 421.1,677.7 413.0,678.5 404.0,681.0" fill="#a7f1e2" stroke="#fff" stroke-width="0.85" stroke-linejoin="round"/>
<polygon points="525.0,676.2 526.2,667.5 532.5,660.0 540.0,652.5 552.5,653.8 562.5,657.5 577.5,656.2 589.0,660.0 595.0,666.0 598.0,671.2 607.0,673.5 608.5,681.0 614.5,685.5 620.5,690.0 625.0,694.5 620.5,704.2 625.0,708.0 629.5,712.5 637.0,714.0 640.0,717.0 639.2,723.0 637.0,726.0 634.0,723.0 625.0,720.0 617.5,717.0 611.5,712.5 608.5,706.5 599.5,705.0 592.0,702.0 587.5,699.0 580.0,697.0 572.5,690.0 560.0,680.0 550.0,681.0 540.0,684.0 530.0,682.0" fill="#a0ead4" stroke="#fff" stroke-width="0.85" stroke-linejoin="round"/>
<polyline points="562.5,657.5 562.0,668.0 565.0,685.0" fill="none" stroke="#fff" stroke-width="0.85" stroke-linejoin="round"/>
<polygon points="537.5,657.0 540.0,653.0 546.0,652.5 551.8,654.5 550.0,659.0 548.0,662.0 541.0,662.6 537.5,661.0" fill="#c2f0cb" stroke="#fff" stroke-width="0.8" stroke-linejoin="round"/>
<polygon points="636.2,686.2 645.0,685.0 647.0,690.0 650.0,698.0 653.8,706.2 652.5,708.8 640.0,711.5 621.9,712.5 620.0,703.8 628.0,694.0 633.0,688.0" fill="#bdeccb" stroke="#fff" stroke-width="0.85" stroke-linejoin="round"/>
<polygon points="632.5,681.0 643.0,678.0 649.0,676.5 659.5,678.0 665.5,675.0 673.0,672.0 682.0,669.8 685.0,672.0 688.0,679.5 688.0,685.5 680.5,691.5 673.0,697.5 670.0,703.5 671.5,709.5 668.5,714.0 673.0,720.0 678.2,726.8 678.2,733.5 673.8,743.6 668.0,745.3 658.0,747.0 654.6,750.4 654.6,742.5 650.5,742.5 643.0,732.0 638.5,724.5 640.0,717.0 640.0,711.8 649.0,711.0 653.5,706.5 649.0,694.5 646.0,687.0 640.0,684.8 637.0,685.5" fill="#4acbf4" stroke="#fff" stroke-width="0.85" stroke-linejoin="round"/>
<polygon points="678.2,726.8 685.0,731.2 692.9,735.8 700.0,738.8 707.5,743.8 715.0,751.2 716.2,760.0 718.8,770.0 716.2,776.2 718.8,783.8 717.5,788.8 707.5,790.0 705.2,783.0 698.5,776.2 696.2,765.0 690.6,760.5 687.2,762.8 685.0,758.2 682.8,753.8 676.0,749.2 670.4,745.9 673.8,743.6 678.2,733.5" fill="#8de0d6" stroke="#fff" stroke-width="0.85" stroke-linejoin="round"/>
<polygon points="651.2,753.8 658.0,747.0 668.0,745.3 670.4,745.9 676.0,749.2 682.8,753.8 685.0,758.2 687.2,762.8 690.6,760.5 696.2,765.0 698.5,776.2 695.0,783.0 690.6,787.5 685.0,783.0 673.8,778.5 671.5,774.0 662.5,768.4 655.8,765.0 652.4,759.4" fill="#ade8d2" stroke="#fff" stroke-width="0.85" stroke-linejoin="round"/>
<polygon points="658.0,769.5 662.5,768.4 671.5,774.0 673.8,778.5 676.0,787.0 682.0,799.0 674.0,799.0 660.0,795.0 648.0,791.0 646.0,787.0 648.0,785.0 652.0,776.0" fill="#70d8e4" stroke="#fff" stroke-width="0.85" stroke-linejoin="round"/>
<polygon points="646.0,787.0 648.0,791.0 660.0,795.0 674.0,799.0 682.0,799.0 680.0,811.0 678.0,823.0 684.0,829.0 688.0,835.0 698.0,847.0 694.0,855.0 688.0,847.0 680.0,841.0 670.0,839.0 664.0,831.0 658.0,825.0 652.0,829.0 642.0,833.0 640.0,839.0 646.0,847.0 644.0,853.0 634.0,857.0 630.0,855.0 632.0,847.0 622.0,841.0 612.0,835.0 607.0,829.0 608.0,823.0 620.0,825.0 632.0,827.0 640.0,821.0 635.0,815.0 636.0,807.0 644.0,793.0" fill="#64d6e9" stroke="#fff" stroke-width="0.85" stroke-linejoin="round"/>
<polygon points="671.5,777.4 673.8,778.5 685.0,783.0 690.6,787.5 695.0,783.0 696.2,775.0 701.9,778.5 705.2,783.0 710.9,788.6 718.8,790.9 722.5,800.0 707.5,805.0 700.0,807.5 698.0,815.0 704.0,821.0 688.0,823.0 684.0,829.0 678.0,823.0 680.0,811.0 682.0,799.0 676.0,787.0" fill="#4acbf4" stroke="#fff" stroke-width="0.85" stroke-linejoin="round"/>
<polygon points="700.0,807.5 707.5,805.0 722.5,800.0 731.2,801.2 741.2,801.2 743.8,810.0 747.5,822.5 744.0,829.0 732.0,827.0 720.0,829.0 712.0,819.0 704.0,821.0 698.0,815.0" fill="#4ccbf3" stroke="#fff" stroke-width="0.85" stroke-linejoin="round"/>
<polygon points="684.0,829.0 688.0,823.0 704.0,821.0 712.0,819.0 720.0,829.0 732.0,827.0 744.0,829.0 744.0,841.0 736.0,841.0 726.0,845.0 728.0,857.0 720.0,865.0 712.0,872.0 700.0,872.0 692.0,867.0 694.0,855.0 698.0,847.0 688.0,835.0" fill="#63d5e9" stroke="#fff" stroke-width="0.85" stroke-linejoin="round"/>
<polygon points="718.8,785.0 722.5,783.8 728.8,790.0 736.2,792.5 741.2,796.2 742.5,786.2 750.0,785.0 753.8,783.8 762.5,788.8 770.0,792.5 775.0,803.8 771.2,805.0 762.5,806.2 753.8,802.5 746.2,801.2 741.2,801.2 731.2,801.2 722.5,800.0 718.8,792.5" fill="#6ad7e8" stroke="#fff" stroke-width="0.85" stroke-linejoin="round"/>
<polygon points="747.5,742.5 761.2,741.2 768.8,750.0 781.2,756.2 792.5,761.2 796.2,767.5 796.2,773.8 792.5,778.8 795.0,785.0 792.5,793.8 780.0,796.2 772.5,792.5 762.5,788.8 753.8,783.8 755.0,777.5 753.8,770.0 748.8,766.2 743.8,760.0 745.0,753.8 747.5,748.8" fill="#8de3d9" stroke="#fff" stroke-width="0.85" stroke-linejoin="round"/>
<text x="537.5" y="658.75" font-size="4.6" fill="#222" text-anchor="start" >15</text>
<text x="537" y="662" font-size="4.2" fill="#222" text-anchor="start" >嘉峪关市</text>
<text x="592" y="684.75" font-size="4.6" fill="#222" text-anchor="start" >224</text>
<text x="592" y="690.75" font-size="4.2" fill="#222" text-anchor="start" >张掖市</text>
<text x="634" y="697.5" font-size="4.6" fill="#222" text-anchor="start" >32</text>
<text x="634" y="703.5" font-size="4.2" fill="#222" text-anchor="start" >金昌市</text>
<text x="645.25" y="715.5" font-size="4.6" fill="#222" text-anchor="start" >895</text>
<text x="645.25" y="721.5" font-size="4.2" fill="#222" text-anchor="start" >武威市</text>
<text x="682.5" y="757.5" font-size="4.6" fill="#222" text-anchor="start" >403</text>
<text x="681" y="763.75" font-size="4.2" fill="#222" text-anchor="start" >白银市</text>
<text x="673.75" y="772.5" font-size="4.6" fill="#222" text-anchor="start" >210</text>
<text x="673.75" y="778.75" font-size="4.2" fill="#222" text-anchor="start" >兰州市</text>
<text x="651" y="786" font-size="4.6" fill="#222" text-anchor="start" >561</text>
<text x="650" y="792.5" font-size="4.2" fill="#222" text-anchor="start" >临夏回族自治州</text>
<text x="692.5" y="786" font-size="4.6" fill="#222" text-anchor="start" >965</text>
<text x="692.5" y="792.5" font-size="4.2" fill="#222" text-anchor="start" >定西市</text>
<text x="643.75" y="805" font-size="4.6" fill="#222" text-anchor="start" >705</text>
<text x="642.5" y="810" font-size="4.2" fill="#222" text-anchor="start" >甘南藏族自治州</text>
<text x="720" y="816.25" font-size="4.6" fill="#222" text-anchor="start" >937</text>
<text x="720" y="822" font-size="4.2" fill="#222" text-anchor="start" >天水市</text>
<text x="700" y="851" font-size="4.6" fill="#222" text-anchor="start" >674</text>
<text x="700" y="856" font-size="4.2" fill="#222" text-anchor="start" >陇南市</text>
<text x="743" y="787.5" font-size="4.6" fill="#222" text-anchor="start" >650</text>
<text x="743" y="793.75" font-size="4.2" fill="#222" text-anchor="start" >平凉市</text>
<text x="765.6" y="782" font-size="4.6" fill="#222" text-anchor="start" >365</text>
<text x="765.6" y="788" font-size="4.2" fill="#222" text-anchor="start" >庆阳市</text>
<rect x="551.25" y="661.25" width="22.5" height="16.25" rx="1" fill="rgba(45,58,55,0.82)" stroke="rgba(255,255,255,0.5)" stroke-width="0.4"/>
<text x="553" y="668" font-size="4.6" fill="#fff">酒泉市</text>
<text x="553" y="675" font-size="4.6" fill="#fff">人数:178</text></svg>
</body></html>
